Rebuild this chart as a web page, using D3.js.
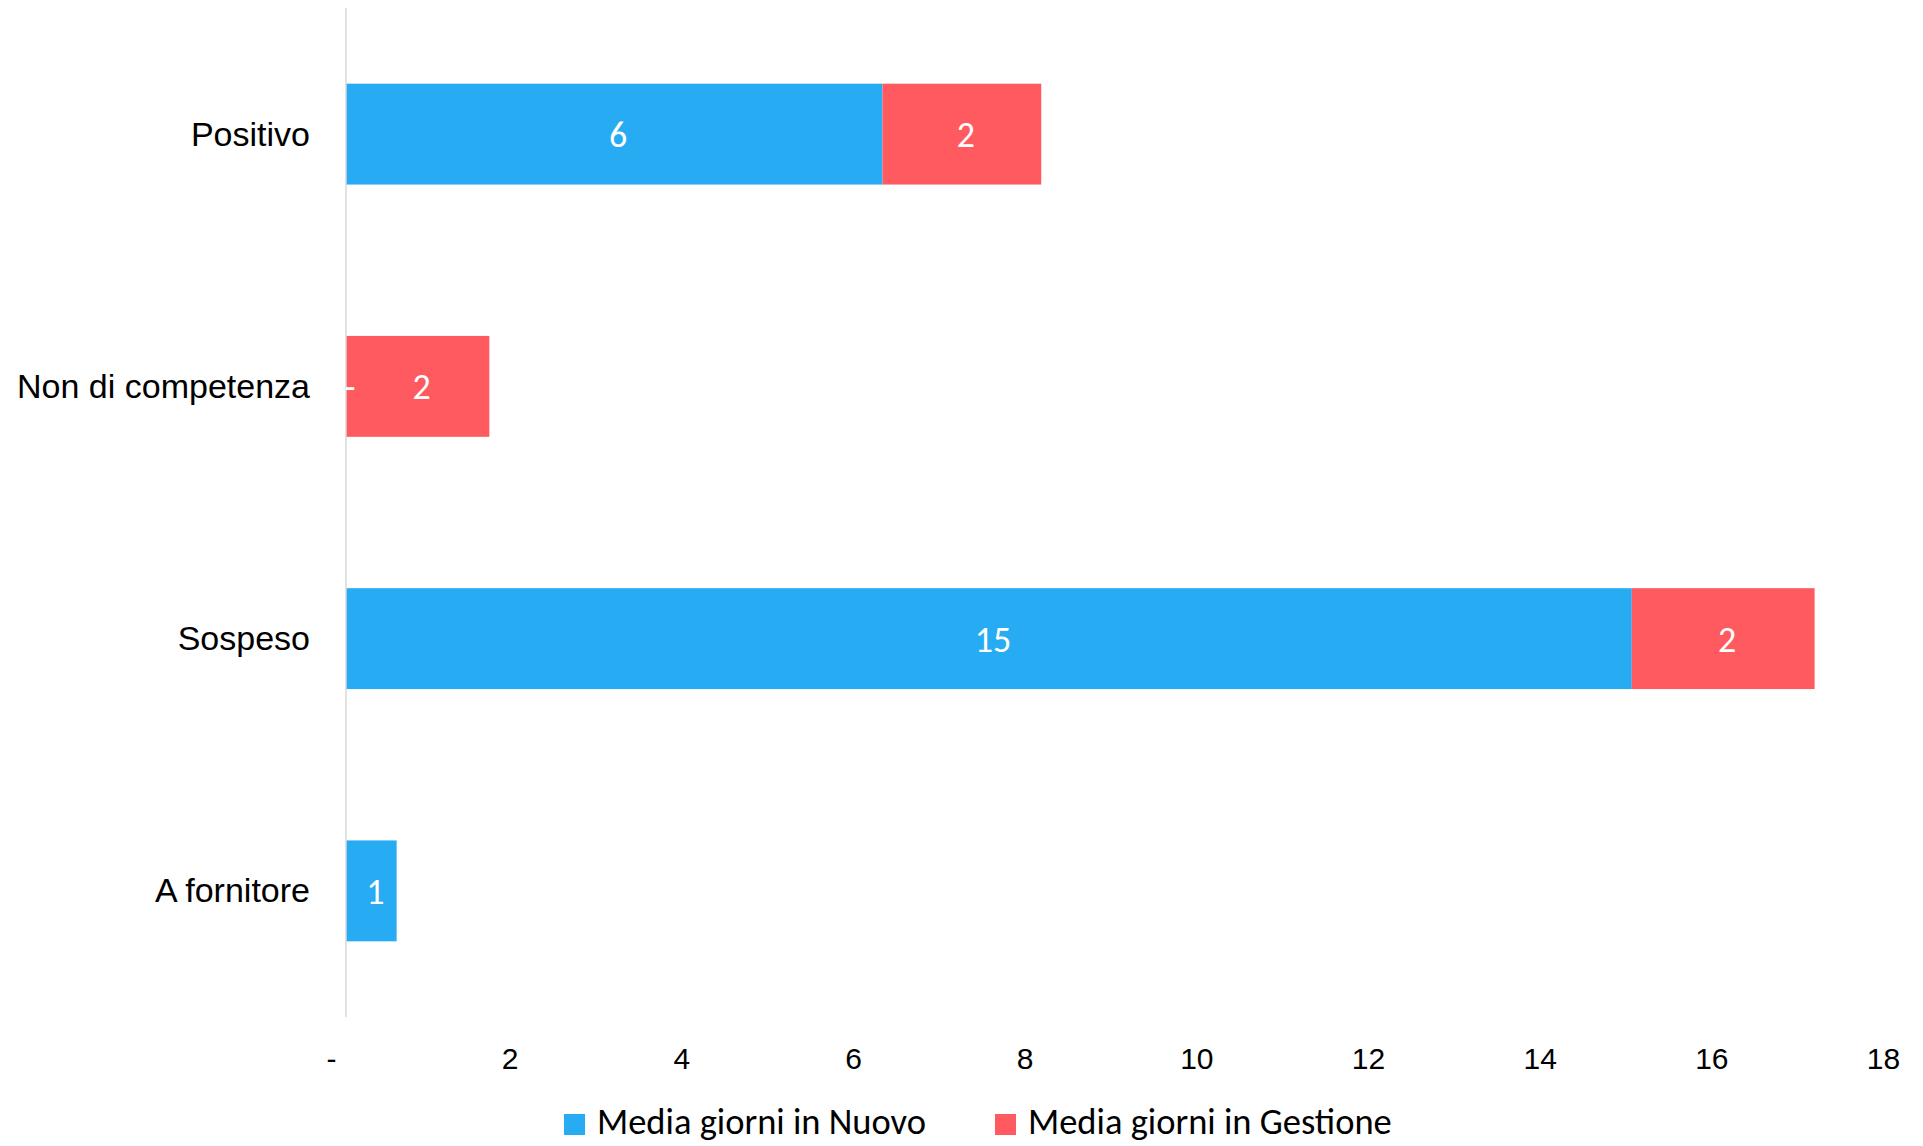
<!DOCTYPE html>
<html><head><meta charset="utf-8">
<script src="https://cdn.jsdelivr.net/npm/d3@7"></script>
<style>
html,body{margin:0;padding:0;background:#fff;}
svg{display:block;font-family:Calibri,Carlito,Lato,sans-serif;}
</style></head>
<body><svg id="c" width="1923" height="1146"></svg>
<script>
const categories = ["Positivo", "Non di competenza", "Sospeso", "A fornitore"];
const seriesNames = ["Media giorni in Nuovo", "Media giorni in Gestione"];
const nuovo = [6.25, 0, 14.98, 0.59];
const gestione = [1.85, 1.67, 2.13, 0];
const xTicks = [0, 2, 4, 6, 8, 10, 12, 14, 16, 18];
const colors = ["#27ACF4", "#FF5A5F"];

const svg = d3.select("#c");
const x = d3.scaleLinear().domain([0, 18]).range([346, 1891]);
const y = d3.scaleBand().domain(categories).range([8, 1017]).paddingInner(0.6).paddingOuter(0.3);

const rows = categories.map((c, i) => ({cat: c, nuovo: nuovo[i], gestione: gestione[i]}));
const stack = d3.stack().keys(["nuovo", "gestione"])(rows);

// bars
stack.forEach((layer, li) => {
  svg.append("g").selectAll("rect").data(layer).join("rect")
    .attr("x", d => x(d[0]))
    .attr("y", d => y(d.data.cat))
    .attr("width", d => x(d[1]) - x(d[0]))
    .attr("height", y.bandwidth())
    .attr("fill", colors[li]);
});

// vertical axis line
svg.append("line")
  .attr("x1", x(0)).attr("x2", x(0))
  .attr("y1", y.range()[0]).attr("y2", y.range()[1])
  .attr("stroke", "#D9D9D9").attr("stroke-width", 1.5);

// data labels
stack.forEach((layer, li) => {
  svg.append("g").selectAll("text").data(layer.filter(d => !(li === 1 && d[1] - d[0] === 0))).join("text")
    .attr("x", d => (d[1] - d[0]) === 0 ? x(d[0]) + 4 : x((d[0] + d[1]) / 2) + 4)
    .attr("y", d => y(d.data.cat) + y.bandwidth() / 2)
    .attr("dy", "0.36em")
    .attr("text-anchor", "middle")
    .attr("fill", "#fff")
    .style("font-size", "36px")
    .text(d => (d[1] - d[0]) === 0 ? "-" : d3.format(".0f")(d[1] - d[0]));
});

// category labels
const yAxis = d3.axisLeft(y).tickSize(0).tickPadding(0);
const gy = svg.append("g").attr("transform", `translate(${x(0) - 36},0)`).call(yAxis);
gy.select(".domain").remove();
gy.selectAll("text").style("font-size", "34px").attr("fill", "#000").attr("font-family", null).attr("dy", "0.34em");

// x axis tick labels
const xAxis = d3.axisBottom(x).tickValues(xTicks).tickSize(0).tickPadding(0)
  .tickFormat(v => v === 0 ? "-" : d3.format("d")(v));
const gx = svg.append("g").attr("transform", "translate(0,1059)").call(xAxis);
gx.select(".domain").remove();
gx.selectAll("text").style("font-size", "30px").attr("fill", "#000").attr("font-family", null)
  .attr("dy", "0.34em")
  .attr("dx", v => v === 0 ? -15 : -8);

// legend
const legendX = [564, 995];
const lg = svg.append("g");
seriesNames.forEach((name, i) => {
  lg.append("rect").attr("x", legendX[i]).attr("y", 1114).attr("width", 21).attr("height", 21).attr("fill", colors[i]);
  lg.append("text").attr("x", legendX[i] + 33).attr("y", 1134).style("font-size", "36.5px").attr("fill", "#000").text(name);
});
</script></body></html>
